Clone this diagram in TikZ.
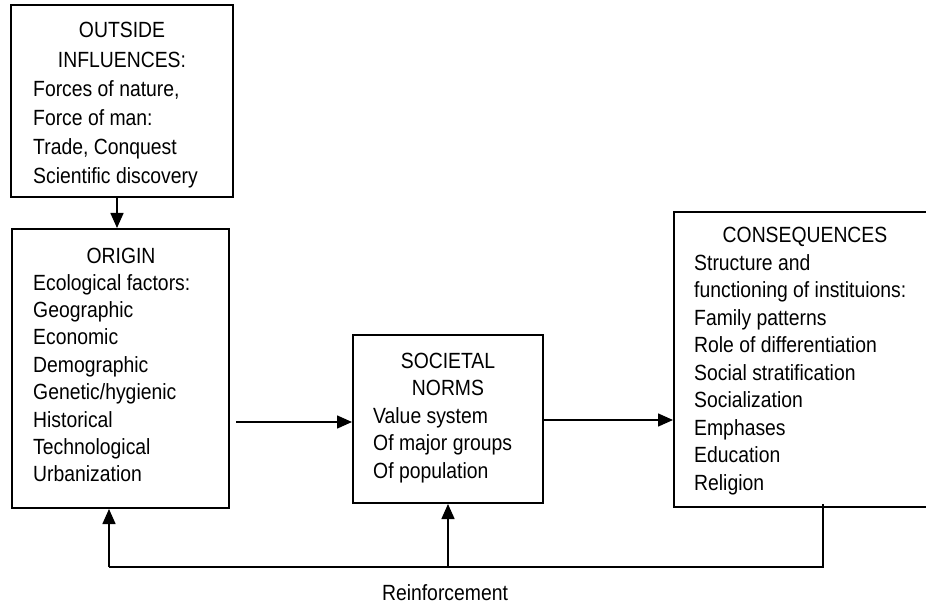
\documentclass[tikz,border=0pt]{standalone}
\usepackage{fontspec}
\setmainfont{Liberation Sans}[FakeStretch=0.88]
\usetikzlibrary{arrows.meta}
\begin{document}
\begin{tikzpicture}[x=1pt,y=-1pt,
  box/.style={draw, line width=2pt, inner sep=0pt},
  txt/.style={inner sep=0pt, font=\fontsize{22}{27}\selectfont},
  arr/.style={line width=1.5pt, -{Triangle[length=15pt,width=13pt]}},
  fbthin/.style={line width=1.5pt},
  fbthick/.style={line width=2.5pt}]
\useasboundingbox (0,0) rectangle (926,604);
% boxes
\node[box, minimum width=222pt, minimum height=192pt] (outside) at (122,101) {};
\node[box, minimum width=217pt, minimum height=279pt] (origin) at (120.5,368.5) {};
\node[box, minimum width=190pt, minimum height=168pt] (norms) at (448,419) {};
\node[box, minimum width=262pt, minimum height=295pt] (cons) at (805,359.5) {};
% outside text
\node[txt, anchor=base] (outT1) at (122,38) {OUTSIDE};
\node[txt, anchor=base] (outT2) at (122,68) {INFLUENCES:};
\foreach \t [count=\i from 0] in {{Forces of nature,},{Force of man:},{Trade, Conquest},{Scientific discovery}}
  \node[txt, anchor=base west] (out\i) at (33,97+29*\i) {\t};
% origin text
\node[txt, anchor=base] (oriT) at (121,263) {ORIGIN};
\foreach \t [count=\i from 0] in {Ecological factors:,Geographic,Economic,Demographic,Genetic/hygienic,Historical,Technological,Urbanization}
  \node[txt, anchor=base west] (ori\i) at (33,290+27.4*\i) {\t};
% norms text
\node[txt, anchor=base] (norT1) at (448,368) {SOCIETAL};
\node[txt, anchor=base] (norT2) at (448,395) {NORMS};
\foreach \t [count=\i from 0] in {Value system,Of major groups,Of population}
  \node[txt, anchor=base west] (nor\i) at (373,423+27.5*\i) {\t};
% consequences text
\node[txt, anchor=base] (conT) at (805,243) {CONSEQUENCES};
\foreach \t [count=\i from 0] in {Structure and,functioning of instituions:,Family patterns,Role of differentiation,Social stratification,Socialization,Emphases,Education,Religion}
  \node[txt, anchor=base west] (con\i) at (694,270+27.5*\i) {\t};
% reinforcement label
\node[txt, anchor=base] (reinf) at (445,600) {Reinforcement};
% connectors
\draw[arr] ([xshift=-5pt]outside.south) -- ([xshift=-5pt]outside.south |- origin.north);
\draw[arr] ([xshift=6pt,yshift=-3pt]origin.east |- norms.west) -- ([yshift=-3pt]norms.west);
\draw[arr] ([yshift=-1pt]norms.east) -- ([yshift=-1pt]norms.east -| cons.west);
% feedback
\coordinate (fbtop) at (823,504);
\coordinate (fbbot) at (823,567);
\draw[line width=1.2pt] (fbtop) -- (fbbot);
\draw[fbthick, line cap=rect] (fbbot) -- (norms.south |- fbbot);
\draw[fbthin] (norms.south |- fbbot) -- ([xshift=-11.5pt]origin.south |- fbbot);
\draw[arr] (norms.south |- fbbot) -- (norms.south);
\draw[arr] ([xshift=-11.5pt]origin.south |- fbbot) -- ([xshift=-11.5pt]origin.south);
\end{tikzpicture}
\end{document}
